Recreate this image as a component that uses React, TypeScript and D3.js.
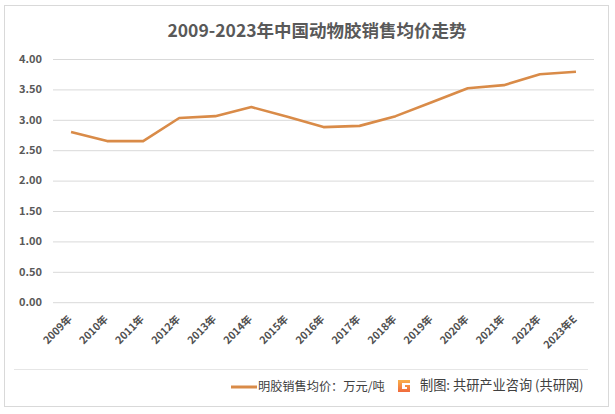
import { useEffect, useRef } from "react";
import * as d3 from "d3";

const years = [
  "2009年", "2010年", "2011年", "2012年", "2013年", "2014年", "2015年", "2016年",
  "2017年", "2018年", "2019年", "2020年", "2021年", "2022年", "2023年E",
];
const prices = [2.8, 2.65, 2.65, 3.03, 3.06, 3.21, 3.05, 2.88, 2.9, 3.06, 3.29, 3.52, 3.57, 3.75, 3.79];
const yTicks = [0, 0.5, 1, 1.5, 2, 2.5, 3, 3.5, 4];

const title = "2009-2023年中国动物胶销售均价走势";
const seriesName = "明胶销售均价：万元/吨";
const sourceText = "制图: 共研产业咨询 (共研网)";

const W = 615;
const H = 414;
const font = "'Noto Sans CJK SC', 'Noto Sans', sans-serif";

const App = () => {
  const svgRef = useRef<SVGSVGElement>(null);

  useEffect(() => {
    const margin = { top: 59, right: 21, bottom: 111, left: 53 };
    const width = W - margin.left - margin.right;
    const height = 4 * 60.8;

    const root = d3.select(svgRef.current);
    root.selectAll("*").remove();
    root.attr("width", W).attr("height", H);

    // frame
    root
      .append("rect")
      .attr("x", 4.5)
      .attr("y", 5.5)
      .attr("width", 604)
      .attr("height", 401)
      .attr("fill", "white")
      .attr("stroke", "#d9d9d9");

    // title
    root
      .append("text")
      .attr("x", 317)
      .attr("y", 37)
      .attr("text-anchor", "middle")
      .attr("font-family", font)
      .attr("font-size", 17.5)
      .attr("font-weight", "bold")
      .attr("fill", "#595959")
      .text(title);

    const svg = root.append("g").attr("transform", `translate(${margin.left},${margin.top})`);

    const x = d3.scaleBand().domain(years).range([0, width]);
    const y = d3.scaleLinear().domain([0, 4]).range([height, 0]);

    // grid lines
    svg
      .append("g")
      .call(d3.axisLeft(y).tickValues(yTicks).tickSize(-width).tickFormat(() => ""))
      .call((g) => g.select(".domain").remove())
      .selectAll("line")
      .attr("stroke", "#d9d9d9")
      .attr("stroke-width", 1);

    // y labels
    svg
      .selectAll(".ylabel")
      .data(yTicks)
      .enter()
      .append("text")
      .attr("class", "ylabel")
      .attr("x", -11)
      .attr("y", (d) => y(d))
      .attr("dy", "0.35em")
      .attr("text-anchor", "end")
      .attr("font-family", font)
      .attr("font-size", 11)
      .attr("font-weight", "bold")
      .attr("fill", "#595959")
      .text((d) => d3.format(".2f")(d));

    // x labels, rotated
    svg
      .selectAll(".xlabel")
      .data(years)
      .enter()
      .append("text")
      .attr("class", "xlabel")
      .attr(
        "transform",
        (d) => `translate(${(x(d) ?? 0) + x.bandwidth() / 2 - 1},${height + 15}) rotate(-45)`
      )
      .attr("text-anchor", "end")
      .attr("dy", "0.35em")
      .attr("font-family", font)
      .attr("font-size", 10.5)
      .attr("font-weight", "bold")
      .attr("fill", "#505050")
      .text((d) => d);

    // line
    const line = d3
      .line<number>()
      .x((_, i) => (x(years[i]) ?? 0) + x.bandwidth() / 2)
      .y((d) => y(d));

    svg
      .append("path")
      .datum(prices)
      .attr("fill", "none")
      .attr("stroke", "#d98b48")
      .attr("stroke-width", 2.6)
      .attr("stroke-linejoin", "round")
      .attr("d", line);

    // legend separator
    root
      .append("line")
      .attr("x1", 14)
      .attr("x2", 588)
      .attr("y1", 369.5)
      .attr("y2", 369.5)
      .attr("stroke", "#e6e6e6");

    // legend
    const legend = root.append("g").attr("transform", "translate(231,387)");
    legend
      .append("line")
      .attr("x1", 0)
      .attr("x2", 26)
      .attr("stroke", "#d98b48")
      .attr("stroke-width", 3);
    legend
      .append("text")
      .attr("x", 27)
      .attr("dy", "0.35em")
      .attr("font-family", font)
      .attr("font-size", 12.2)
      .attr("fill", "#404040")
      .text(seriesName);

    // source logo + text
    const defs = root.append("defs");
    const grad = defs
      .append("linearGradient")
      .attr("id", "logoGrad")
      .attr("x1", 0)
      .attr("y1", 0)
      .attr("x2", 0)
      .attr("y2", 1);
    grad.append("stop").attr("offset", "0%").attr("stop-color", "#f9b04a");
    grad.append("stop").attr("offset", "100%").attr("stop-color", "#f06a3c");

    const logo = root.append("g").attr("transform", "translate(397,379)");
    logo
      .append("path")
      .attr("d", "M1,1 H13 V4 H5 V10 H10 V8 H8 V6 H13 V13 H1 Z")
      .attr("fill", "url(#logoGrad)");

    root
      .append("text")
      .attr("x", 420)
      .attr("y", 385)
      .attr("dy", "0.35em")
      .attr("font-family", font)
      .attr("font-size", 13.2)
      .attr("fill", "#404040")
      .text(sourceText);
  }, []);

  return (
    <svg ref={svgRef} style={{ position: "absolute", left: 0, top: 0, display: "block" }}></svg>
  );
};

export default App;
